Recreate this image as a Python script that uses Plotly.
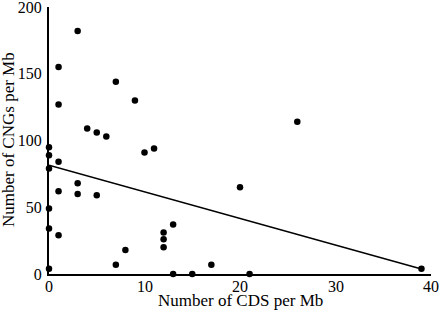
import plotly.graph_objects as go

cds_per_mb = [3, 1, 1, 7, 9, 4, 5, 6, 0, 0, 10, 11, 26, 1, 0, 1, 3, 3, 5, 0,
              0, 1, 8, 7, 0, 20, 13, 12, 12, 12, 17, 13, 15, 21, 39]
cngs_per_mb = [182, 155, 127, 144, 130, 109, 106, 103, 95, 89, 91, 94, 114, 84, 79, 62, 68, 60, 59, 49,
               34, 29, 18, 7, 4, 65, 37, 31, 26, 20, 7, 0, 0, 0, 4]
trend_x = [0, 39]
trend_y = [81.5, 3.7]
x_ticks = [0, 10, 20, 30, 40]
y_ticks = [0, 50, 100, 150, 200]
x_title = "Number of CDS per Mb"
y_title = "Number of CNGs per Mb"

font = "Liberation Serif, Times New Roman, serif"

fig = go.Figure()
fig.add_trace(go.Scatter(x=trend_x, y=trend_y, mode="lines",
                         line=dict(color="black", width=1.5), cliponaxis=False,
                         showlegend=False, hoverinfo="skip"))
fig.add_trace(go.Scatter(x=cds_per_mb, y=cngs_per_mb, mode="markers",
                         marker=dict(color="black", size=6.5), cliponaxis=False,
                         showlegend=False))

annotations = [
    dict(text=str(v), x=v, xref="x", y=0, yref="paper", yshift=-12,
         xanchor="center", yanchor="middle", showarrow=False, font=dict(size=16))
    for v in x_ticks
]
annotations += [
    dict(text=x_title, xref="paper", yref="paper", x=(240 - 49) / 382, y=-26 / 267,
         xanchor="center", yanchor="middle", showarrow=False, font=dict(size=17)),
    dict(text=y_title, xref="paper", yref="paper", x=-41 / 382, y=(274 - 140) / 267,
         xanchor="center", yanchor="middle", showarrow=False, textangle=-90,
         font=dict(size=17)),
]

fig.update_layout(
    width=440, height=311,
    margin=dict(l=49, r=9, t=7, b=37, autoexpand=False),
    paper_bgcolor="white", plot_bgcolor="white",
    font=dict(family=font, size=16, color="black"),
    xaxis=dict(range=[0, 40], tickvals=x_ticks, showgrid=False, zeroline=False,
               showline=True, linecolor="black", linewidth=2, ticks="",
               showticklabels=False, automargin=False),
    yaxis=dict(range=[0, 200], tickvals=y_ticks, showgrid=False, zeroline=False,
               showline=True, linecolor="black", linewidth=2, ticks="",
               tickfont=dict(size=16), ticklabelstandoff=2, automargin=False,
               ticklabeloverflow="allow"),
    annotations=annotations,
)

fig.write_html("out.html", post_script="document.body.style.margin='0';",
               config={"displayModeBar": False})
